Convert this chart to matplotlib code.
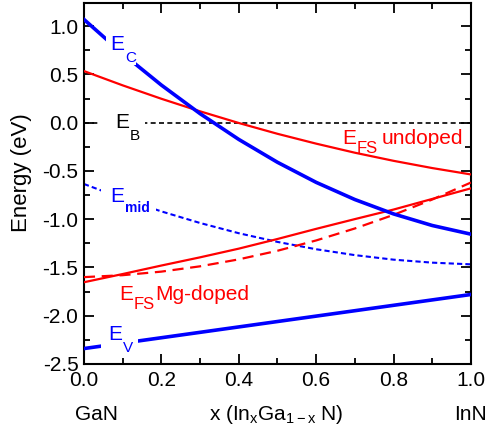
import matplotlib
matplotlib.use("Agg")
import matplotlib.pyplot as plt
from matplotlib.ticker import MultipleLocator
from matplotlib.patches import Rectangle
from matplotlib.transforms import IdentityTransform

plt.rcParams['font.family'] = ['Liberation Sans', 'DejaVu Sans']
plt.rcParams['mathtext.fontset'] = 'custom'
plt.rcParams['mathtext.rm'] = 'Liberation Sans'
plt.rcParams['mathtext.it'] = 'Liberation Sans'

x = [0.0, 0.1, 0.2, 0.3, 0.4, 0.5, 0.6, 0.7, 0.8, 0.9, 1.0]
E_C = [1.07, 0.715, 0.39, 0.094, -0.173, -0.41, -0.618, -0.796, -0.945, -1.065, -1.155]
E_V = [-2.34, -2.284, -2.228, -2.172, -2.116, -2.06, -2.004, -1.948, -1.892, -1.836, -1.78]
E_mid = [-0.635, -0.785, -0.919, -1.039, -1.145, -1.235, -1.311, -1.372, -1.419, -1.45, -1.4675]
E_FS_undoped = [0.535, 0.387, 0.248, 0.118, -0.003, -0.115, -0.217, -0.311, -0.395, -0.470, -0.536]
E_FS_Mg = [-1.653, -1.568, -1.48, -1.395, -1.305, -1.205, -1.10, -0.999, -0.90, -0.79, -0.68]
E_FS_Mg_dash = [-1.60, -1.58, -1.543, -1.488, -1.416, -1.327, -1.22, -1.096, -0.955, -0.796, -0.62]
E_B = [0.0, 0.0]
x_B = [0.0, 1.0]

xticks = [0.0, 0.2, 0.4, 0.6, 0.8, 1.0]
yticks = [-2.5, -2.0, -1.5, -1.0, -0.5, 0.0, 0.5, 1.0]

BLUE = '#0000ff'
RED = '#ff0000'

fig = plt.figure(figsize=(4.88, 4.30), dpi=100)
ax = fig.add_axes([0.172, 0.1535, 0.793, 0.8395])

ax.plot(x_B, E_B, color='black', lw=1.2, ls=(0, (3, 2)), zorder=2)
ax.plot(x, E_mid, color=BLUE, lw=1.5, ls=(0, (2.5, 1.5)), zorder=2)
ax.plot(x, E_FS_undoped, color=RED, lw=1.6, zorder=3)
ax.plot(x, E_FS_Mg, color=RED, lw=1.6, zorder=3)
ax.plot(x, E_FS_Mg_dash, color=RED, lw=1.6, ls=(0, (5, 3)), zorder=3)
ax.plot(x, E_C, color=BLUE, lw=2.6, zorder=4)
ax.plot(x, E_V, color=BLUE, lw=2.6, zorder=4)

ax.set_xlim(0, 1)
ax.set_ylim(-2.5, 1.24)
ax.set_xticks(xticks)
ax.set_yticks(yticks)
ax.set_xticklabels([f'{v:.1f}' for v in xticks])
ax.set_yticklabels([f'{v:.1f}' for v in yticks])
ax.xaxis.set_minor_locator(MultipleLocator(0.1))
ax.yaxis.set_minor_locator(MultipleLocator(0.25))
ax.tick_params(which='both', direction='in', top=True, right=True, width=1.3)
ax.tick_params(which='major', length=7, labelsize=15)
ax.tick_params(which='minor', length=4)
ax.tick_params(axis='x', pad=5)
ax.tick_params(axis='y', pad=4)
for s in ax.spines.values():
    s.set_linewidth(1.5)

ax.set_ylabel('Energy (eV)', fontsize=16)
ax.yaxis.set_label_coords(-0.135, 0.53)

fig.canvas.draw()
renderer = fig.canvas.get_renderer()


def rich_label(xd, yd, parts, color, mask=None):
    """parts: list of (string, fontsize, dy_px, gap_px, weight)"""
    x0, y0 = ax.transData.transform((xd, yd))
    cx = x0
    exts = []
    for s, size, dy, gap, w in parts:
        cx += gap
        t = ax.text(cx, y0 - dy, s, fontsize=size, color=color, fontweight=w,
                    transform=IdentityTransform(), ha='left', va='baseline', zorder=6)
        ext = t.get_window_extent(renderer)
        exts.append(ext)
        cx = ext.x1
    if mask is not None:
        ml, mr = mask
        xa = min(e.x0 for e in exts) - ml
        xb = max(e.x1 for e in exts) + mr
        ya = min(e.y0 for e in exts)
        yb = max(e.y1 for e in exts)
        r = Rectangle((xa, ya), xb - xa, yb - ya, facecolor='white', edgecolor='none',
                      transform=IdentityTransform(), zorder=5)
        ax.add_patch(r)


N = 'normal'
rich_label(0.067, 0.75, [('E', 15, 0, 0, N), ('C', 11, 12, 1, N)], BLUE, mask=(4, 0))
rich_label(0.08, -0.055, [('E', 15, 0, 0, N), ('B', 11, 12, 1, N)], 'black', mask=(17, 5))
rich_label(0.067, -0.82, [('E', 15, 0, 0, N), ('mid', 10, 10, 1, 'bold')], BLUE, mask=(9, 6))
rich_label(0.062, -2.25, [('E', 15, 0, 0, N), ('V', 11, 12, 1, N)], BLUE, mask=(7, 5))
rich_label(0.09, -1.84, [('E', 15, 0, 0, N), ('FS', 12, 9, 0.5, N), ('Mg-doped', 15, 0, 0.5, N)], RED)
rich_label(0.668, -0.22, [('E', 15, 0, 0, N), ('FS', 12, 9, 0.5, N), ('undoped', 15, 0, 4, N)], RED)

fig.text(96 / 488, 0.024, 'GaN', fontsize=15, ha='center', va='baseline')
fig.text(471 / 488, 0.024, 'InN', fontsize=15, ha='center', va='baseline')
fig.text(276 / 488, 0.024, r'x (In$\mathregular{_x}$Ga$\mathregular{_{1-x}}$ N)', fontsize=15,
         ha='center', va='baseline')

fig.savefig('out.png', dpi=100)
